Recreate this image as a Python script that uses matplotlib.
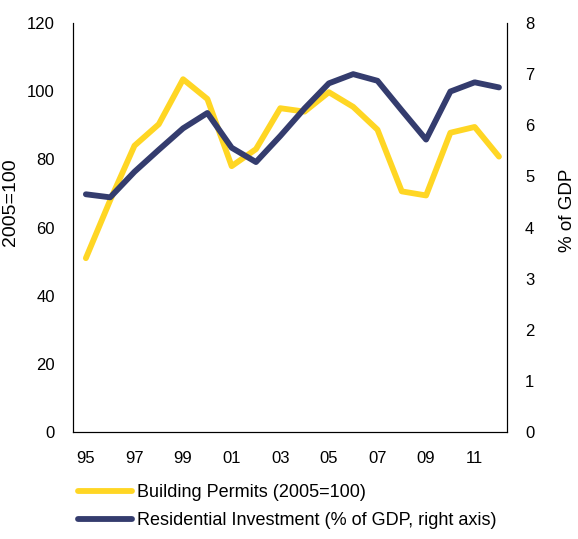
import matplotlib.pyplot as plt

plt.rcParams['font.family'] = ['Liberation Sans', 'DejaVu Sans']
plt.rcParams['font.size'] = 12

years = ['95', '96', '97', '98', '99', '00', '01', '02', '03', '04',
         '05', '06', '07', '08', '09', '10', '11', '12']
permits = [51, 68, 84, 90.3, 103.5, 97.7, 78, 83, 95, 94,
           99.7, 95.4, 88.7, 70.6, 69.4, 87.8, 89.5, 80.8]
resid_inv = [4.65, 4.59, 5.09, 5.52, 5.94, 6.24, 5.56, 5.28, 5.79, 6.33,
             6.82, 7.0, 6.87, 6.29, 5.72, 6.66, 6.84, 6.74]
left_ticks = [0, 20, 40, 60, 80, 100, 120]
right_ticks = [0, 1, 2, 3, 4, 5, 6, 7, 8]

yellow = '#FFD624'
navy = '#343C6E'

W, H = 578, 539
fig = plt.figure(figsize=(W / 100, H / 100), dpi=100)
ax = fig.add_axes([73 / W, 1 - 432 / H, 434 / W, 409 / H])
ax2 = ax.twinx()

x = list(range(len(years)))
l1, = ax.plot(x, permits, color=yellow, lw=4.2, solid_capstyle='round',
              label='Building Permits (2005=100)')
l2, = ax2.plot(x, resid_inv, color=navy, lw=4.2, solid_capstyle='round',
               label='Residential Investment (% of GDP, right axis)')

ax.set_xlim(-0.53, 17.33)
ax.set_ylim(0, 120)
ax2.set_ylim(0, 8)
ax.set_yticks(left_ticks)
ax2.set_yticks(right_ticks)
ax.set_xticks(x[::2])
ax.set_xticklabels(years[::2])

for a in (ax, ax2):
    a.spines['top'].set_visible(False)
    a.tick_params(length=0, labelsize=12)
ax.tick_params(axis='y', pad=13)
ax.tick_params(axis='x', pad=14)
ax2.tick_params(axis='y', pad=13)

# axis titles placed by hand, they sit off-centre in the original
fig.text(11 / W, 1 - 202 / H, '2005=100', rotation=90, ha='center',
         va='center', fontsize=14)
fig.text(567 / W, 1 - 210 / H, '% of GDP', rotation=90, ha='center',
         va='center', fontsize=13.5)

fig.legend(handles=[l1, l2], loc='upper left',
           bbox_to_anchor=(78 / W, 1 - 484 / H),
           frameon=False, fontsize=13, handlelength=3.0, handletextpad=0.25,
           labelspacing=0.62, borderaxespad=0, borderpad=0)

fig.savefig('out.png', dpi=100)
